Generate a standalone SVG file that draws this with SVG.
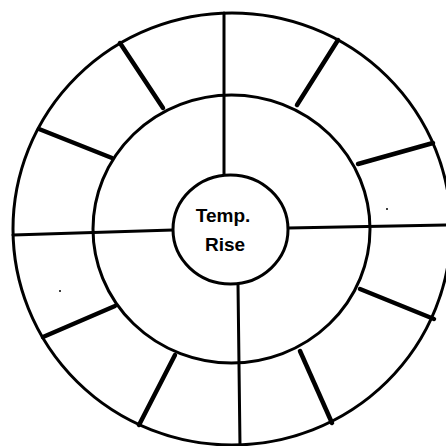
<svg xmlns="http://www.w3.org/2000/svg" width="446" height="446" viewBox="0 0 446 446">
<style>
.ring{fill:none;stroke:#000;stroke-width:3}
.spoke{stroke:#000;stroke-width:3;stroke-linecap:round}
.thick{stroke:#000;stroke-width:4.5;stroke-linecap:round}
.lbl{font-family:"Liberation Sans",Arial,sans-serif;font-weight:bold;font-size:19px;text-anchor:middle;fill:#000}
</style>
<rect width="446" height="446" fill="#fff"/>
<g id="outer-ring"><ellipse class="ring" cx="232" cy="229" rx="219" ry="216"/></g>
<g id="middle-ring"><ellipse class="ring" cx="231.5" cy="229" rx="138.5" ry="134"/></g>
<g id="connectors">
<line class="spoke" x1="224" y1="13" x2="224" y2="175"/>
<line class="spoke" x1="238" y1="284" x2="240" y2="446"/>
<line class="spoke" x1="13" y1="235" x2="173" y2="230"/>
<line class="spoke" x1="288" y1="228" x2="446" y2="225"/>
<line class="thick" x1="120" y1="43" x2="163" y2="108"/>
<line class="thick" x1="39" y1="129" x2="112" y2="158"/>
<line class="thick" x1="338" y1="40" x2="297" y2="105"/>
<line class="thick" x1="433" y1="143" x2="358" y2="164"/>
<line class="thick" x1="360" y1="289" x2="434" y2="319"/>
<line class="thick" x1="300" y1="351" x2="332" y2="423"/>
<line class="thick" x1="43" y1="337" x2="115" y2="306"/>
<line class="thick" x1="175" y1="355" x2="139" y2="425"/>
</g>
<g id="temp-rise">
<ellipse cx="230.5" cy="229.5" rx="57.5" ry="54.5" fill="#fff" stroke="#000" stroke-width="3"/>
<text class="lbl" x="223" y="222">Temp.</text>
<text class="lbl" x="225" y="251">Rise</text>
</g>
<circle cx="60" cy="291" r="1" fill="#000"/>
<circle cx="387" cy="209" r="1" fill="#000"/>
</svg>
